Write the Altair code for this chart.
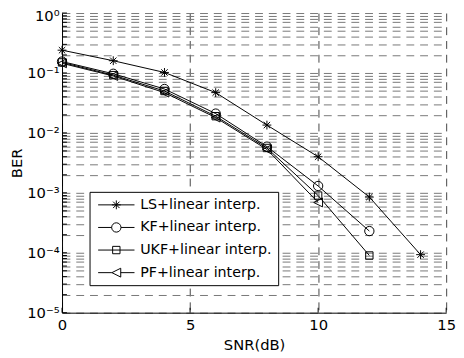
import altair as alt
import pandas as pd

series = ["LS+linear interp.", "KF+linear interp.", "UKF+linear interp.", "PF+linear interp."]

snr_ls = [0, 2, 4, 6, 8, 10, 12, 14]
ber_ls = [0.24, 0.16, 0.102, 0.047, 0.0135, 0.0040, 0.00085, 0.000093]

snr_kf = [0, 2, 4, 6, 8, 10, 12]
ber_kf = [0.155, 0.097, 0.054, 0.021, 0.0059, 0.0013, 0.00023]

snr_ukf = [0, 2, 4, 6, 8, 10, 12]
ber_ukf = [0.150, 0.092, 0.050, 0.019, 0.0056, 0.00090, 0.00009]

snr_pf = [0, 2, 4, 6, 8, 10]
ber_pf = [0.145, 0.089, 0.047, 0.018, 0.0053, 0.00069]

x_ticks = [0, 5, 10, 15]
decades = [1e-5, 1e-4, 1e-3, 1e-2, 1e-1, 1]
y_grid = []
for d in decades[:-1]:
    for m in range(1, 10):
        y_grid.append(float(f"{m * d:.6g}"))
y_grid.append(1)

# marker shapes (unit paths)
m_ast = "M-0.9,0L0.9,0M0,-0.9L0,0.9M-0.65,-0.65L0.65,0.65M-0.65,0.65L0.65,-0.65"
m_circ = "M0.95,0A0.95,0.95 0 1,1 -0.95,0A0.95,0.95 0 1,1 0.95,0Z"
m_sq = "M-0.75,-0.75L0.75,-0.75L0.75,0.75L-0.75,0.75Z"
m_tri = "M-0.9,0L0.9,-0.9L0.9,0.9Z"
markers = [m_ast, m_circ, m_sq, m_tri]
L = 3.7
leg = [
    f"M-{L},0L{L},0" + m_ast,
    f"M-{L},0L-0.95,0M0.95,0L{L},0" + m_circ,
    f"M-{L},0L{L},0" + m_sq,
    f"M-{L},0L-0.9,0M0.9,0L{L},0" + m_tri,
]

rows = []
for name, xs, ys in zip(series, [snr_ls, snr_kf, snr_ukf, snr_pf], [ber_ls, ber_kf, ber_ukf, ber_pf]):
    for x, y in zip(xs, ys):
        rows.append({"snr": x, "ber": y, "series": name})
df = pd.DataFrame(rows)

W, H = 391, 305
FONT = "DejaVu Sans"

label_expr = ("datum.value == 1 ? '10⁰' : datum.value == 0.1 ? '10⁻¹' : datum.value == 0.01 ? '10⁻²' : "
              "datum.value == 0.001 ? '10⁻³' : datum.value == 0.0001 ? '10⁻⁴' : datum.value == 0.00001 ? '10⁻⁵' : ''")

xscale = alt.Scale(domain=[0, 15], nice=False)
yscale = alt.Scale(type="log", domain=[1e-5, 1], nice=False)

xenc = alt.X("snr:Q", scale=xscale, title="SNR(dB)",
             axis=alt.Axis(values=x_ticks, ticks=False, tickSize=0, labelPadding=5, titlePadding=5,
                           grid=True, gridDash=[8, 6], gridColor="#444", gridWidth=1,
                           domainColor="black", labelColor="black", titleColor="black",
                           labelFont=FONT, titleFont=FONT, labelFontSize=15, titleFontSize=15,
                           titleFontWeight="normal", labelFlush=False))
yenc = alt.Y("ber:Q", scale=yscale, title="BER",
             axis=alt.Axis(values=y_grid, labelExpr=label_expr, ticks=False, tickSize=0, labelPadding=3,
                           titlePadding=2, grid=True, gridDash=[8, 6], gridColor="#777", gridWidth=1,
                           domainColor="black", labelColor="black", titleColor="black",
                           labelFont=FONT, titleFont=FONT, labelFontSize=15, titleFontSize=15,
                           labelOffset={"condition": {"test": "datum.value == 1", "value": 3}, "value": 0},
                           titleFontWeight="normal", labelFlush=False, labelOverlap=False))

base = alt.Chart(df)

lines = base.mark_line(color="black", strokeWidth=1).encode(
    x=xenc, y=yenc, detail="series:N")

points = base.mark_point(color="black", strokeWidth=1, filled=False, size=100, opacity=1).encode(
    x="snr:Q", y="ber:Q",
    shape=alt.Shape("series:N", scale=alt.Scale(domain=series, range=markers), legend=None))

legend_pts = base.mark_point(color="black", strokeWidth=1, filled=False, size=100, opacity=0).encode(
    x="snr:Q", y="ber:Q",
    shape=alt.Shape("series:N", scale=alt.Scale(domain=series, range=leg),
                    legend=alt.Legend(title=None, orient="none", legendX=28, legendY=182,
                                      strokeColor="black", fillColor="white", padding=6,
                                      symbolOpacity=1, symbolStrokeColor="black", symbolFillColor="transparent",
                                      symbolStrokeWidth=1, symbolSize=100, symbolOffset=14, labelOffset=17,
                                      rowPadding=8, labelFont=FONT, labelFontSize=14.5, labelColor="black",
                                      labelLimit=300)))

tick_df = pd.DataFrame({"v": y_grid})
yticks = alt.Chart(tick_df).mark_rule(color="black", strokeWidth=1).encode(
    y=alt.Y("v:Q", scale=yscale), x=alt.value(0), x2=alt.value(5))
xt_df = pd.DataFrame({"v": x_ticks})
xticks = alt.Chart(xt_df).mark_rule(color="black", strokeWidth=1).encode(
    x=alt.X("v:Q", scale=xscale), y=alt.value(H), y2=alt.value(H - 5))

chart = alt.layer(lines, yticks, xticks, points, legend_pts).resolve_scale(
    shape="independent"
).properties(
    width=W, height=H,
    autosize=alt.AutoSizeParams(type="none"),
    padding={"left": 55, "top": 2, "right": 10, "bottom": 43},
    background="white",
).configure_view(stroke=None)

chart.save("out.html", embed_options={"renderer": "svg", "actions": False})
